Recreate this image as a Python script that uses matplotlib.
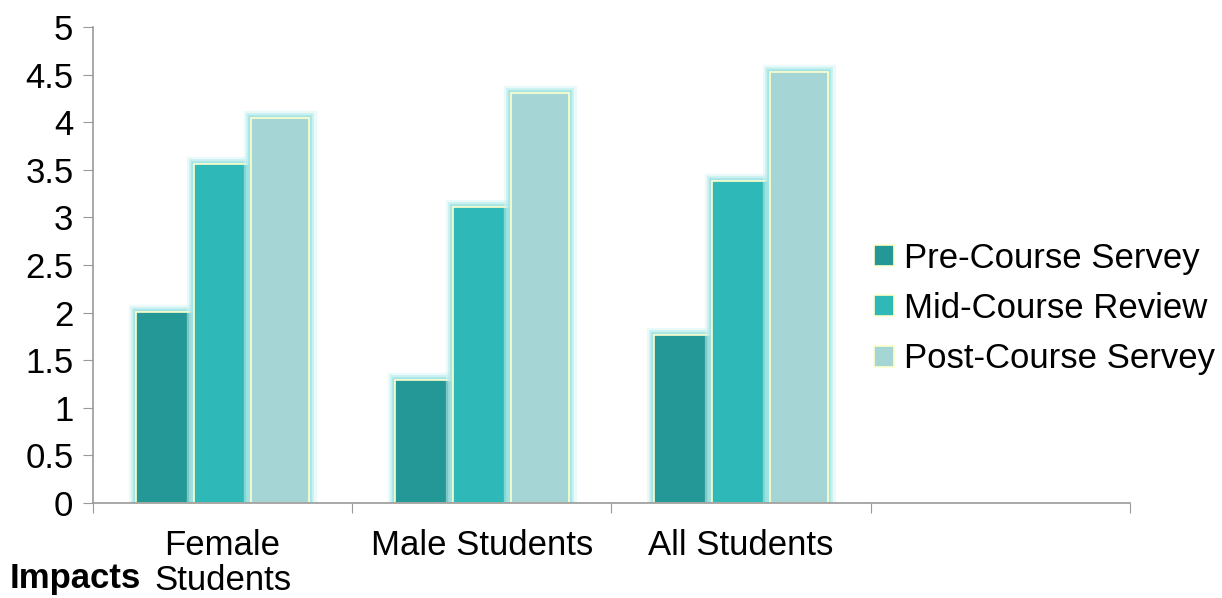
import matplotlib
matplotlib.use("Agg")
import matplotlib.pyplot as plt
import matplotlib.patheffects as pe
import numpy as np

categories = ["Female\nStudents", "Male Students", "All Students", ""]
series_names = ["Pre-Course Servey", "Mid-Course Review", "Post-Course Servey"]
pre_course = [2.01, 1.29, 1.76]
mid_course = [3.56, 3.11, 3.38]
post_course = [4.04, 4.31, 4.53]
colors = ["#249896", "#2EB8B8", "#A5D5D5"]
y_ticks = [0, 0.5, 1, 1.5, 2, 2.5, 3, 3.5, 4, 4.5, 5]
y_ticklabels = ["0", "0.5", "1", "1.5", "2", "2.5", "3", "3.5", "4", "4.5", "5"]

plt.rcParams['font.family'] = ['Liberation Sans', 'DejaVu Sans']
FS = 25

fig = plt.figure(figsize=(12.22, 5.98), dpi=100)
ax = fig.add_axes([0.076, 0.159, 0.8487, 0.7958])

n_slots = len(categories)
x = np.arange(3)
w = 0.223
glow = [pe.Stroke(linewidth=11, foreground="#d6f4f4", alpha=0.5),
        pe.Stroke(linewidth=7, foreground="#b4eaea", alpha=0.6),
        pe.Stroke(linewidth=4, foreground="#9fe3e3", alpha=0.8),
        pe.Normal()]
for i, (vals, name) in enumerate(zip([pre_course, mid_course, post_course], series_names)):
    bars = ax.bar(x + (i - 1) * w, vals, width=w, color=colors[i], edgecolor="#FFFFCC",
                  linewidth=1.2, label=name, zorder=2 + i * 0.1)
    for b in bars:
        b.set_path_effects(glow)

ax.set_xlim(-0.5, n_slots - 0.5)
ax.set_ylim(0, 5)
ax.set_yticks(y_ticks)
ax.set_yticklabels(y_ticklabels, fontsize=FS)
ax.set_xticks(np.arange(n_slots + 1) - 0.5)
ax.set_xticklabels([])
ax.set_xticks(np.arange(n_slots), minor=True)
ax.set_xticklabels(categories, minor=True, fontsize=FS, va="top", linespacing=1.08)
ax.tick_params(axis="x", which="minor", length=0, pad=19)
ax.tick_params(axis="x", which="major", length=7, color="#999999", direction="out")
ax.tick_params(axis="y", length=7, color="#999999", direction="out", pad=7)
for s in ["top", "right"]:
    ax.spines[s].set_visible(False)
for s in ["left", "bottom"]:
    ax.spines[s].set_color("#999999")
    ax.spines[s].set_linewidth(1.2)

fig.text(0.008, 0.016, "Impacts", fontsize=FS, fontweight="bold", ha="left", va="baseline")

leg = fig.legend(loc="center left", bbox_to_anchor=(0.690, 0.484), frameon=False,
                 fontsize=FS, handlelength=0.55, handleheight=0.55, handletextpad=0.3,
                 labelspacing=0.5)
for h in leg.legend_handles:
    h.set_path_effects([pe.Normal()])

fig.savefig("out.png", dpi=100, facecolor="white")
